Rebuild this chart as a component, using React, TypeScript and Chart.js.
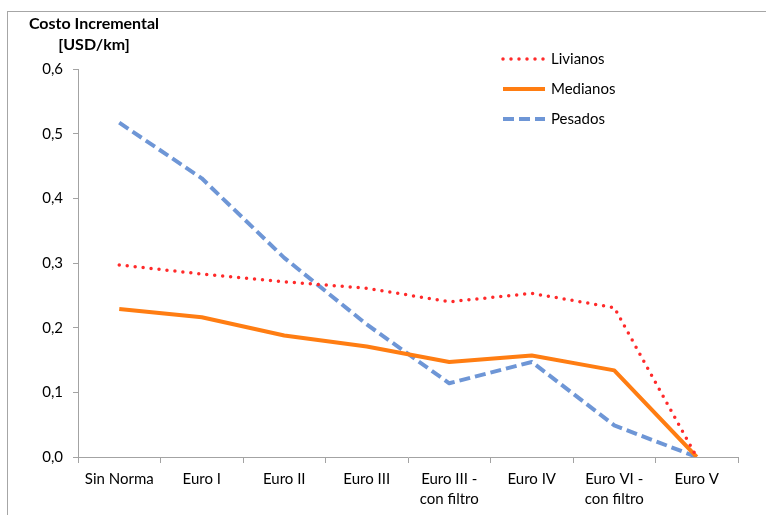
import React, { useEffect, useRef } from "react";
import { Chart, registerables } from "chart.js";

Chart.register(...registerables);

// Categories along the x axis (emission standards)
const categories: (string | string[])[] = [
  "Sin Norma",
  "Euro I",
  "Euro II",
  "Euro III",
  ["Euro III -", "con filtro"],
  "Euro IV",
  ["Euro VI -", "con filtro"],
  "Euro V",
];

// Incremental cost per vehicle class [USD/km]
const livianos = [0.297, 0.283, 0.271, 0.261, 0.24, 0.253, 0.231, 0.0];
const medianos = [0.229, 0.216, 0.188, 0.171, 0.147, 0.157, 0.134, 0.0];
const pesados = [0.517, 0.431, 0.308, 0.205, 0.114, 0.147, 0.049, 0.0];

const yTickLabels = ["0,0", "0,1", "0,2", "0,3", "0,4", "0,5", "0,6"];
const titleLines = ["Costo Incremental", "[USD/km]"];
const seriesNames = ["Livianos", "Medianos", "Pesados"];

const FONT = "Lato, 'Open Sans', sans-serif";
const AXIS_GREY = "#a3a3a3";

const seriesStyles = [
  { color: "#ff2a2a", width: 3.5, dash: [0, 8], cap: "round" as CanvasLineCap },
  { color: "#ff7d12", width: 4, dash: [] as number[], cap: "butt" as CanvasLineCap },
  { color: "#6e96d6", width: 4, dash: [11, 5], cap: "butt" as CanvasLineCap },
];

// Axis title and legend drawn on the canvas at fixed positions
const annotations = {
  id: "annotations",
  afterDraw(chart: Chart) {
    const ctx = chart.ctx;
    ctx.save();
    ctx.fillStyle = "#000";
    ctx.textAlign = "center";
    ctx.textBaseline = "middle";
    ctx.font = `bold 16px ${FONT}`;
    ctx.fillText(titleLines[0], 94, 24);
    ctx.fillText(titleLines[1], 94, 45);

    seriesNames.forEach((name, i) => {
      const y = 59 + i * 30;
      const s = seriesStyles[i];
      ctx.beginPath();
      ctx.strokeStyle = s.color;
      ctx.lineWidth = s.width;
      ctx.lineCap = s.cap;
      ctx.setLineDash(s.dash);
      ctx.moveTo(503, y);
      ctx.lineTo(545, y);
      ctx.stroke();
      ctx.setLineDash([]);
      ctx.fillStyle = "#000";
      ctx.textAlign = "left";
      ctx.font = `15px ${FONT}`;
      ctx.fillText(name, 551, y);
    });
    ctx.restore();
  },
};

export default function App() {
  const canvasRef = useRef<HTMLCanvasElement | null>(null);

  useEffect(() => {
    if (!canvasRef.current) return;
    const data = [livianos, medianos, pesados];
    const chart = new Chart(canvasRef.current, {
      type: "line",
      data: {
        labels: categories,
        datasets: seriesNames.map((name, i) => ({
          label: name,
          data: data[i],
          borderColor: seriesStyles[i].color,
          backgroundColor: seriesStyles[i].color,
          borderWidth: seriesStyles[i].width,
          borderDash: seriesStyles[i].dash,
          borderCapStyle: seriesStyles[i].cap,
          borderJoinStyle: "round" as CanvasLineJoin,
          pointRadius: 0,
          tension: 0,
          fill: false,
        })),
      },
      options: {
        responsive: false,
        animation: false,
        devicePixelRatio: 1,
        layout: { padding: { left: 0, top: 69, right: 28, bottom: 0 } },
        plugins: {
          legend: { display: false },
          tooltip: { enabled: false },
          title: { display: false },
        },
        scales: {
          x: {
            type: "category",
            offset: true,
            grid: {
              offset: true,
              drawOnChartArea: false,
              drawTicks: true,
              tickLength: 6,
              tickColor: AXIS_GREY,
              color: AXIS_GREY,
            },
            border: { display: true, color: AXIS_GREY, width: 1 },
            ticks: {
              color: "#000",
              font: { family: FONT, size: 15, lineHeight: 1.33 },
              padding: 6,
              maxRotation: 0,
              autoSkip: false,
            },
            afterFit(scale: any) {
              scale.height = 58;
            },
          },
          y: {
            min: 0,
            max: 0.6,
            grid: {
              drawOnChartArea: false,
              drawTicks: true,
              tickLength: 5,
              tickColor: AXIS_GREY,
              color: AXIS_GREY,
            },
            border: { display: true, color: AXIS_GREY, width: 1 },
            ticks: {
              stepSize: 0.1,
              color: "#000",
              font: { family: FONT, size: 15 },
              padding: 10,
              callback: (_v: any, index: number) => yTickLabels[index],
            },
            afterFit(scale: any) {
              scale.width = 78;
            },
          },
        },
      },
      plugins: [annotations],
    });
    return () => chart.destroy();
  }, []);

  return (
    <div
      style={{
        position: "fixed",
        left: 0,
        top: 0,
        width: 766,
        height: 515,
        overflow: "hidden",
        background: "#fff",
      }}
    >
      <div
        style={{
          position: "absolute",
          left: 7,
          top: 11,
          width: 800,
          height: 600,
          borderLeft: "1px solid #a6a6a6",
          borderTop: "1px solid #a6a6a6",
        }}
      />
      <canvas
        ref={canvasRef}
        width={766}
        height={515}
        style={{ position: "absolute", left: 0, top: 0 }}
      />
    </div>
  );
}
